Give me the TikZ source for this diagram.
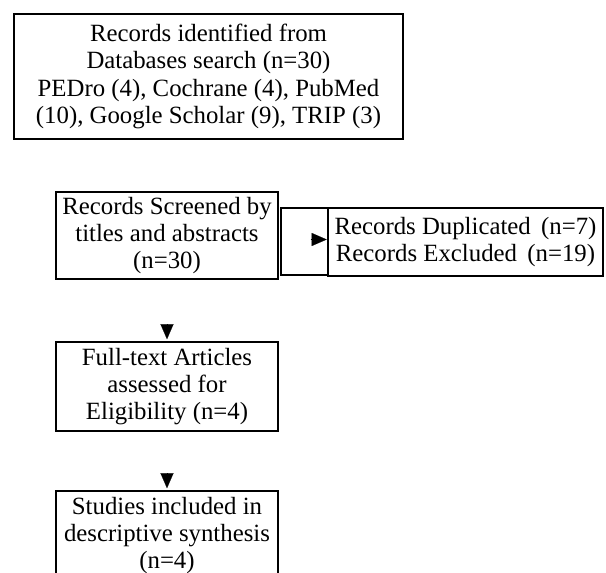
\documentclass[tikz,border=0pt]{standalone}
\usepackage{fontspec}
\setmainfont{Liberation Serif}
\usetikzlibrary{arrows.meta,calc}
\begin{document}
\begin{tikzpicture}[x=1pt,y=1pt,
  box/.style={draw,line width=1.6pt,rectangle,inner sep=0pt,align=center,
    font=\fontsize{24.8}{27.3}\selectfont},
  tipc/.style={-{Triangle[length=15pt,width=13pt]},line width=0.1pt}]
\clip (0,0) rectangle (606,-573);
\fill[white] (0,0) rectangle (606,-573);
\node[box,minimum width=389pt,minimum height=125pt] (ident) at (208.5,-76.5)
  {Records identified from\\Databases search\ (n=30)\\PEDro (4), Cochrane (4), PubMed\\(10), Google Scholar (9), TRIP (3)};
\node[box,minimum width=222pt,minimum height=87pt] (screen) at (167,-235.5)
  {Records Screened by\\titles and abstracts\\(n=30)};
\node[box,minimum width=47pt,minimum height=67pt] (mid) at (304.5,-241.5) {};
\node[box,minimum width=275pt,minimum height=68pt] (excl) at (465.5,-242)
  {Records Duplicated\,\ (n=7)\\Records Excluded\,\ (n=19)};
\node[box,minimum width=222pt,minimum height=89pt] (full) at (167,-386.5)
  {Full-text Articles\\assessed for\\Eligibility\ (n=4)};
\node[box,minimum width=222pt,minimum height=89pt] (incl) at (167,-535.5)
  {Studies included in\\descriptive synthesis\\(n=4)};
\coordinate (a1) at ($(full.north)+(0,17)$);
\coordinate (a2) at ($(incl.north)+(0,17)$);
\coordinate (a3s) at ($(excl.west)+(-16.5,2.5)$);
\coordinate (a3e) at ($(excl.west)+(-0.5,2.5)$);
\draw[tipc] (a1) -- ($(full.north)+(0,2)$);
\draw[tipc] (a2) -- ($(incl.north)+(0,2)$);
\draw[tipc] (a3s) -- (a3e);
\end{tikzpicture}
\end{document}
